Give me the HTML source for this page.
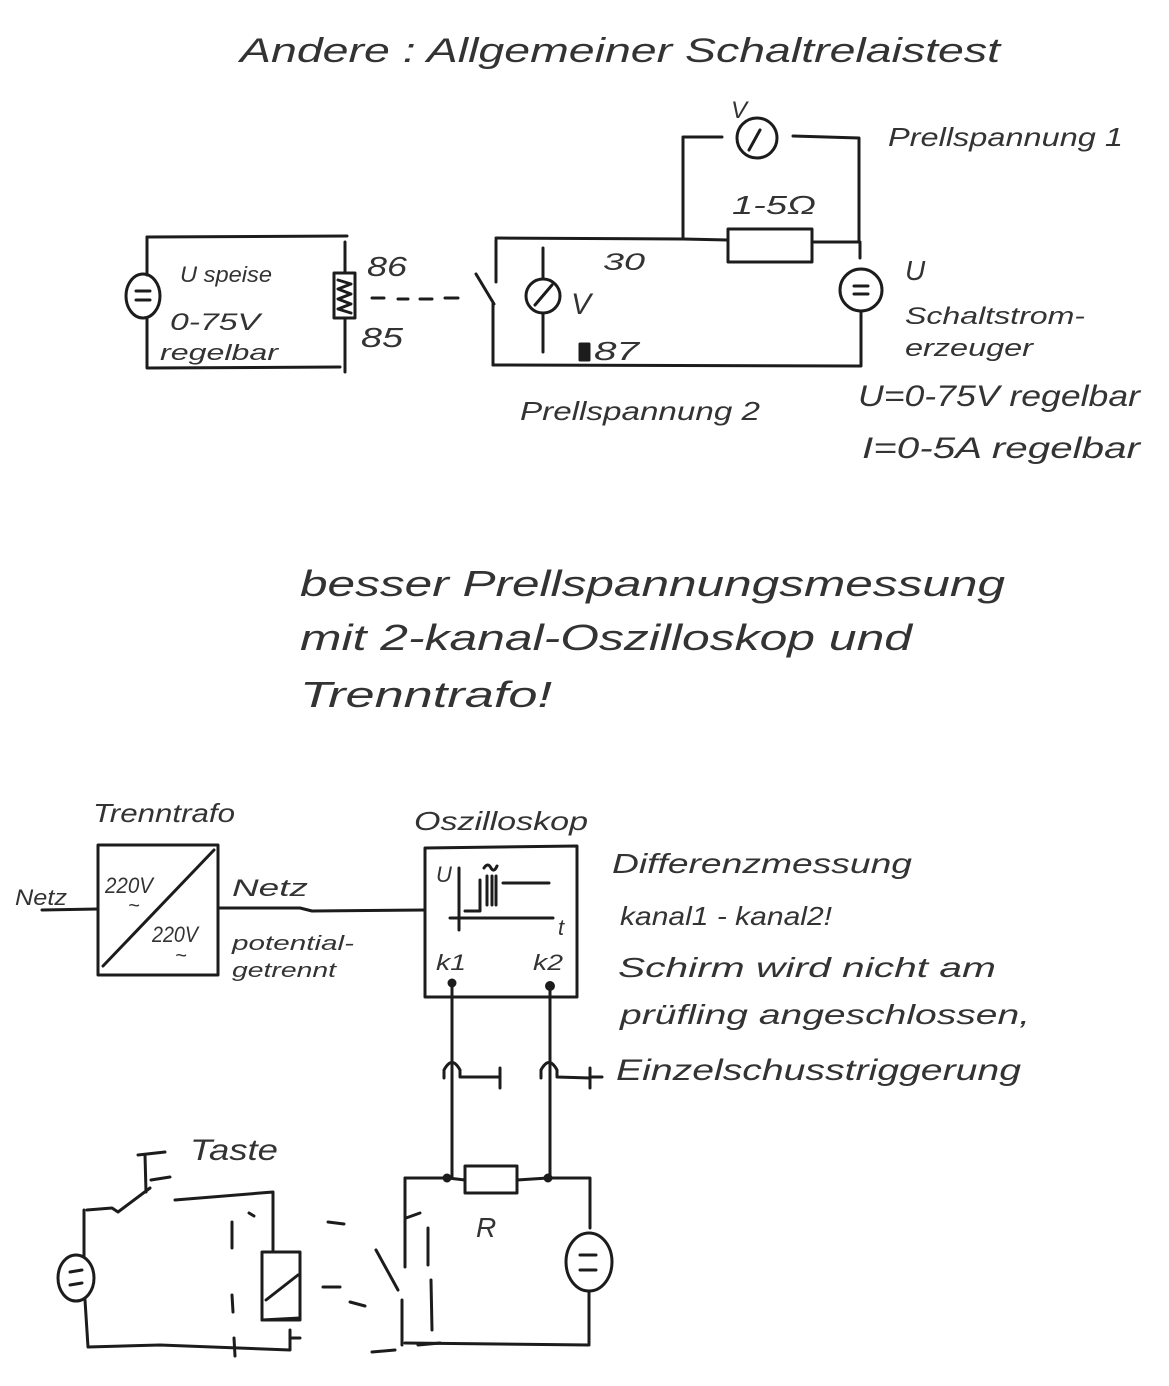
<!DOCTYPE html>
<html><head><meta charset="utf-8">
<style>
html,body{margin:0;padding:0;background:#fff;}
svg{display:block;}
text{font-family:"Liberation Sans",sans-serif;font-style:italic;fill:#333;}
</style></head>
<body>
<svg width="1169" height="1386" viewBox="0 0 1169 1386" xmlns="http://www.w3.org/2000/svg">
<rect width="1169" height="1386" fill="#fff"/>
<g stroke="#1c1c1c" stroke-width="3" fill="none" stroke-linecap="round" stroke-linejoin="round">
<!-- TOP LEFT CIRCUIT -->
<path d="M147,237 L347,236"/>
<path d="M147,237 L147,275"/>
<ellipse cx="143" cy="296" rx="17" ry="22"/>
<path d="M136,291 L150,291 M136,300 L150,300"/>
<path d="M147,318 L147,368 L340,367"/>
<path d="M345,242 L345,273"/>
<rect x="334" y="273" width="21" height="45"/>
<path d="M338,280 L351,284 L338,289 L351,294 L338,299 L351,304 L338,309 L351,313"/>
<path d="M345,318 L345,372"/>
<!-- dashed link -->
<path d="M372,298 L384,298 M398,299 L408,299 M420,299 L432,299 M445,298 L458,298"/>
<!-- switch -->
<path d="M476,274 L494,304"/>
<path d="M496,240 L496,282"/>
<path d="M493,303 L493,365"/>
<!-- TOP RIGHT CIRCUIT -->
<path d="M496,238 L683,239 L728,240"/>
<rect x="728" y="229" width="84" height="33"/>
<path d="M812,242 L860,242 L860,258"/>
<circle cx="861" cy="290" r="21"/>
<path d="M854,286 L868,286 M854,294 L868,294"/>
<path d="M861,311 L861,366 L493,365"/>
<!-- voltmeter in circuit -->
<path d="M543,248 L543,279"/>
<circle cx="543" cy="296" r="17"/>
<path d="M535,305 L552,285"/>
<path d="M543,313 L543,352"/>
<!-- upper branch -->
<path d="M683,239 L683,137 L722,137"/>
<circle cx="757" cy="138" r="20"/>
<path d="M749,150 L760,130"/>
<path d="M793,136 L859,138 L859,242"/>
<!-- blob 87 -->
<rect x="580" y="344" width="9" height="16" fill="#1c1c1c"/>
<!-- BOTTOM: trenntrafo -->
<path d="M42,910 L98,909"/>
<rect x="98" y="845" width="120" height="130"/>
<path d="M103,966 L214,850"/>
<path d="M218,908 L300,908 L312,911 L425,910"/>
<!-- oscilloscope -->
<path d="M425,848 L577,846 L577,997 L425,997 Z"/>
<path d="M459,868 L459,930"/>
<path d="M450,918 L553,918"/>
<path d="M465,911 L480,911 L480,880"/>
<path d="M487,876 L487,905 M492,876 L492,905 M496,876 L496,905"/>
<path d="M503,883 L549,883"/>
<path d="M484,868 Q488,862 491,868 Q494,873 497,866"/>
<circle cx="452" cy="983" r="3" fill="#1c1c1c"/>
<circle cx="550" cy="986" r="3.5" fill="#1c1c1c"/>
<path d="M452,983 L452,1178"/>
<path d="M550,986 L550,1178"/>
<!-- probe clips -->
<path d="M444,1078 L444,1070 Q452,1055 460,1070 L460,1077 L500,1077"/>
<path d="M500,1068 L500,1088"/>
<path d="M541,1078 L541,1070 Q549,1055 557,1070 L557,1077 L590,1078"/>
<path d="M590,1068 L590,1088"/>
<path d="M592,1077 L602,1077"/>
<!-- BOTTOM LEFT CIRCUIT -->
<path d="M84,1210 L84,1256"/>
<ellipse cx="76" cy="1278" rx="18" ry="23"/>
<path d="M70,1272 L82,1270 M70,1285 L82,1283"/>
<path d="M85,1300 L88,1347 L160,1345 L290,1350 L290,1330"/>
<path d="M87,1210 L112,1208 L118,1212 L150,1188"/>
<path d="M138,1155 L165,1152"/>
<path d="M145,1155 L146,1192"/>
<path d="M151,1180 L170,1177"/>
<path d="M175,1200 L273,1192 L273,1250"/>
<rect x="262" y="1252" width="38" height="68"/>
<path d="M266,1300 L298,1275"/>
<path d="M262,1320 L300,1318"/>
<path d="M290,1338 L300,1338"/>
<path d="M249,1213 L254,1216 M232,1222 L232,1248 M232,1295 L233,1312 M234,1338 L235,1356"/>
<path d="M328,1222 L344,1224 M323,1287 L340,1287 M350,1302 L365,1306"/>
<!-- BOTTOM RIGHT CIRCUIT -->
<path d="M405,1178 L446,1178"/>
<circle cx="447" cy="1178" r="3" fill="#1c1c1c"/>
<rect x="465" y="1166" width="52" height="27"/>
<path d="M448,1178 L465,1180 M517,1180 L548,1178"/>
<circle cx="548" cy="1178" r="3" fill="#1c1c1c"/>
<path d="M548,1178 L590,1178 L590,1228"/>
<ellipse cx="589" cy="1262" rx="23" ry="29"/>
<path d="M580,1255 L596,1255 M580,1270 L596,1270"/>
<path d="M589,1291 L589,1345 L405,1343"/>
<path d="M405,1178 L405,1267"/>
<path d="M376,1250 L398,1290"/>
<path d="M402,1300 L402,1345"/>
<path d="M406,1218 L420,1213 M428,1228 L428,1265 M431,1280 L432,1330 M418,1345 L440,1343 M372,1352 L395,1350"/>
</g>

<!-- TEXT -->
<text x="240" y="62" font-size="34" textLength="760" lengthAdjust="spacingAndGlyphs">Andere : Allgemeiner Schaltrelaistest</text>
<text x="180" y="282" font-size="22" textLength="92" lengthAdjust="spacingAndGlyphs">U speise</text>
<text x="170" y="330" font-size="24" textLength="90" lengthAdjust="spacingAndGlyphs">0-75V</text>
<text x="160" y="360" font-size="22" textLength="118" lengthAdjust="spacingAndGlyphs">regelbar</text>
<text x="367" y="276" font-size="28" textLength="40" lengthAdjust="spacingAndGlyphs">86</text>
<text x="361" y="347" font-size="28" textLength="42" lengthAdjust="spacingAndGlyphs">85</text>
<text x="571" y="314" font-size="30">V</text>
<text x="603" y="270" font-size="24" textLength="42" lengthAdjust="spacingAndGlyphs">30</text>
<text x="594" y="360" font-size="26" textLength="45" lengthAdjust="spacingAndGlyphs">87</text>
<text x="731" y="118" font-size="24">V</text>
<text x="732" y="214" font-size="26" textLength="84" lengthAdjust="spacingAndGlyphs">1-5Ω</text>
<text x="888" y="146" font-size="26" textLength="235" lengthAdjust="spacingAndGlyphs">Prellspannung 1</text>
<text x="905" y="280" font-size="28">U</text>
<text x="905" y="324" font-size="24" textLength="180" lengthAdjust="spacingAndGlyphs">Schaltstrom-</text>
<text x="905" y="356" font-size="24" textLength="128" lengthAdjust="spacingAndGlyphs">erzeuger</text>
<text x="858" y="406" font-size="30" textLength="282" lengthAdjust="spacingAndGlyphs">U=0-75V regelbar</text>
<text x="862" y="458" font-size="30" textLength="278" lengthAdjust="spacingAndGlyphs">I=0-5A regelbar</text>
<text x="520" y="420" font-size="26" textLength="240" lengthAdjust="spacingAndGlyphs">Prellspannung 2</text>

<text x="300" y="596" font-size="36" textLength="705" lengthAdjust="spacingAndGlyphs">besser   Prellspannungsmessung</text>
<text x="300" y="650" font-size="36" textLength="612" lengthAdjust="spacingAndGlyphs">mit 2-kanal-Oszilloskop und</text>
<text x="300" y="707" font-size="36" textLength="252" lengthAdjust="spacingAndGlyphs">Trenntrafo!</text>

<text x="93" y="822" font-size="26" textLength="142" lengthAdjust="spacingAndGlyphs">Trenntrafo</text>
<text x="15" y="905" font-size="22" textLength="52" lengthAdjust="spacingAndGlyphs">Netz</text>
<text x="105" y="893" font-size="22" textLength="48" lengthAdjust="spacingAndGlyphs">220V</text>
<text x="128" y="912" font-size="20">~</text>
<text x="152" y="942" font-size="22" textLength="46" lengthAdjust="spacingAndGlyphs">220V</text>
<text x="175" y="962" font-size="20">~</text>
<text x="232" y="896" font-size="24" textLength="76" lengthAdjust="spacingAndGlyphs">Netz</text>
<text x="232" y="950" font-size="20" textLength="122" lengthAdjust="spacingAndGlyphs">potential-</text>
<text x="232" y="977" font-size="20" textLength="104" lengthAdjust="spacingAndGlyphs">getrennt</text>
<text x="414" y="830" font-size="26" textLength="174" lengthAdjust="spacingAndGlyphs">Oszilloskop</text>
<text x="436" y="882" font-size="22">U</text>
<text x="558" y="935" font-size="22">t</text>
<text x="436" y="970" font-size="22" textLength="30" lengthAdjust="spacingAndGlyphs">k1</text>
<text x="533" y="970" font-size="22" textLength="30" lengthAdjust="spacingAndGlyphs">k2</text>

<text x="612" y="873" font-size="28" textLength="300" lengthAdjust="spacingAndGlyphs">Differenzmessung</text>
<text x="620" y="925" font-size="26" textLength="212" lengthAdjust="spacingAndGlyphs">kanal1 - kanal2!</text>
<text x="618" y="977" font-size="28" textLength="378" lengthAdjust="spacingAndGlyphs">Schirm wird nicht am</text>
<text x="620" y="1024" font-size="28" textLength="410" lengthAdjust="spacingAndGlyphs">prüfling angeschlossen,</text>
<text x="616" y="1080" font-size="30" textLength="405" lengthAdjust="spacingAndGlyphs">Einzelschusstriggerung</text>

<text x="190" y="1160" font-size="30" textLength="88" lengthAdjust="spacingAndGlyphs">Taste</text>
<text x="476" y="1237" font-size="28">R</text>
</svg>
</body></html>
